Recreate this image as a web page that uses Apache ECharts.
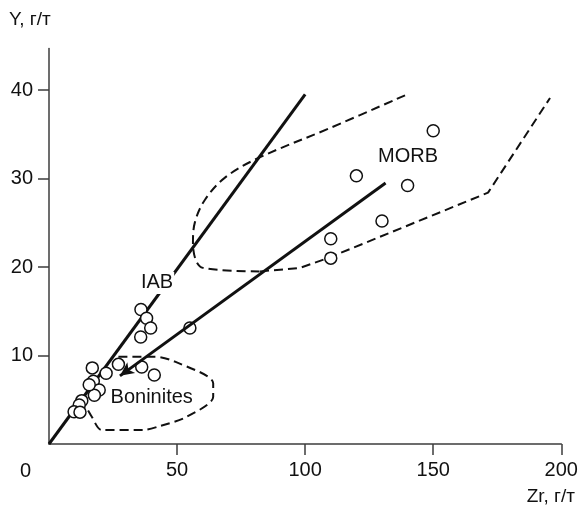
<!DOCTYPE html>
<html>
<head>
<meta charset="utf-8">
<script src="https://cdn.jsdelivr.net/npm/echarts@6/dist/echarts.min.js"></script>
<style>
html,body{margin:0;padding:0;background:#fff;}
#chart{width:582px;height:506px;}
</style>
</head>
<body>
<div id="chart"></div>
<script>
// ---- data ----
const xTickValues = [50, 100, 150, 200];
const yTickValues = [10, 20, 30, 40];
const xAxisName = 'Zr, г/т';
const yAxisName = 'Y, г/т';

const sampleZr = [150, 120, 140, 130, 110, 110, 35.9, 38.1, 39.7, 35.8, 55, 16.9, 22.3, 27.1, 36.2, 41.1, 17.3, 19.6, 17.7, 15.7, 12.8, 11.8, 9.8, 12.1];
const sampleY  = [35.4, 30.3, 29.2, 25.2, 23.2, 21.0, 15.2, 14.2, 13.1, 12.1, 13.1, 8.6, 8.0, 9.0, 8.7, 7.8, 7.1, 6.1, 5.5, 6.7, 4.9, 4.4, 3.65, 3.6];

const iabLineZr = [0, 100];
const iabLineY  = [0, 39.5];

const morbLineZr = [131.4, 27.7];
const morbLineY  = [29.5, 7.7];

const morbCurveZr = [139.0, 109.7, 81.6, 68.7, 60.9, 57.0, 56.2, 60.1, 82.4];
const morbCurveY  = [39.4, 35.7, 32.3, 30.1, 27.6, 25.1, 22.7, 19.9, 19.5];
const morbBaseZr  = [82.4, 98.0, 109.7, 171.4, 195.6];
const morbBaseY   = [19.5, 19.9, 21.1, 28.4, 39.1];

const boniZr = [27.1, 41.4, 49.2, 64.1, 64.1, 53.8, 43.3, 36.8, 20.6, 16.7, 14.7];
const boniY  = [9.86, 9.86, 9.3, 6.86, 5.34, 3.08, 2.03, 1.58, 1.58, 3.08, 4.07];

const fieldNames = ['IAB', 'MORB', 'Boninites'];
const fieldZr = [42.2, 140.2, 40.1];
const fieldY  = [18.2, 32.5, 5.3];

// ---- build ----
const zip = (a, b) => a.map((v, i) => [v, b[i]]);
const FONT = '"Liberation Sans", Arial, sans-serif';
const AX = '#3c3c3c';

const chart = echarts.init(document.getElementById('chart'), null, {renderer: 'canvas'});
chart.setOption({
  animation: false,
  backgroundColor: '#ffffff',
  grid: {left: 49, right: 20.7, top: 48.4, bottom: 62, containLabel: false},
  xAxis: {
    type: 'value', min: 0, max: 200, interval: 50,
    axisLine: {show: true, onZero: false, lineStyle: {color: AX, width: 1.5}},
    axisTick: {show: true, length: 11, inside: false, customValues: xTickValues, lineStyle: {color: AX, width: 1.5}},
    axisLabel: {customValues: xTickValues, margin: 16, fontSize: 20, color: '#111', fontFamily: FONT},
    splitLine: {show: false}
  },
  yAxis: {
    type: 'value', min: 0, max: 44.7, interval: 10,
    axisLine: {show: true, onZero: false, lineStyle: {color: AX, width: 1.5}},
    axisTick: {show: true, length: 11, inside: false, customValues: yTickValues, lineStyle: {color: AX, width: 1.5}},
    axisLabel: {customValues: yTickValues, margin: 16, fontSize: 20, color: '#111', fontFamily: FONT},
    splitLine: {show: false}
  },
  graphic: [
    {type: 'text', left: 9, top: 10, style: {text: yAxisName, fontSize: 19, fill: '#111', fontFamily: FONT}},
    {type: 'text', right: 7, top: 487, style: {text: xAxisName, fontSize: 19, fill: '#111', fontFamily: FONT}},
    {type: 'text', left: 20, top: 461, style: {text: '0', fontSize: 20, fill: '#111', fontFamily: FONT}}
  ],
  series: [
    {type: 'line', data: zip(morbCurveZr, morbCurveY), smooth: 0.35, symbol: 'none',
     lineStyle: {color: '#111', width: 2, type: [9, 5]}, z: 2},
    {type: 'line', data: zip(morbBaseZr, morbBaseY), symbol: 'none',
     lineStyle: {color: '#111', width: 2, type: [9, 5]}, z: 2},
    {type: 'line', data: zip(boniZr, boniY), smooth: 0.3, symbol: 'none',
     lineStyle: {color: '#111', width: 2, type: [9, 5]}, z: 2},
    {type: 'line', data: zip(iabLineZr, iabLineY), symbol: 'none',
     lineStyle: {color: '#111', width: 3}, z: 3},
    {type: 'line', data: [], symbol: 'none',
     markLine: {silent: true, animation: false, label: {show: false},
       lineStyle: {color: '#111', width: 3, type: 'solid'},
       data: [[{coord: [morbLineZr[0], morbLineY[0]], symbol: 'none'},
               {coord: [morbLineZr[1], morbLineY[1]], symbol: 'arrow', symbolSize: [10, 14]}]]},
     z: 3},
    {type: 'scatter', data: zip(sampleZr, sampleY), symbol: 'circle', symbolSize: 12,
     itemStyle: {color: '#fff', borderColor: '#111', borderWidth: 1.5, opacity: 1}, z: 4},
    {type: 'scatter',
     data: fieldNames.map((n, i) => ({
       value: [fieldZr[i], fieldY[i]], name: n,
       label: n === 'IAB' ? {backgroundColor: '#fff', padding: [1, 1]} : {}
     })),
     symbolSize: 1, itemStyle: {color: 'rgba(0,0,0,0)', opacity: 1},
     label: {show: true, position: 'inside', formatter: p => p.name, fontSize: 20, color: '#111', fontFamily: FONT},
     z: 5}
  ]
});
</script>
</body>
</html>
